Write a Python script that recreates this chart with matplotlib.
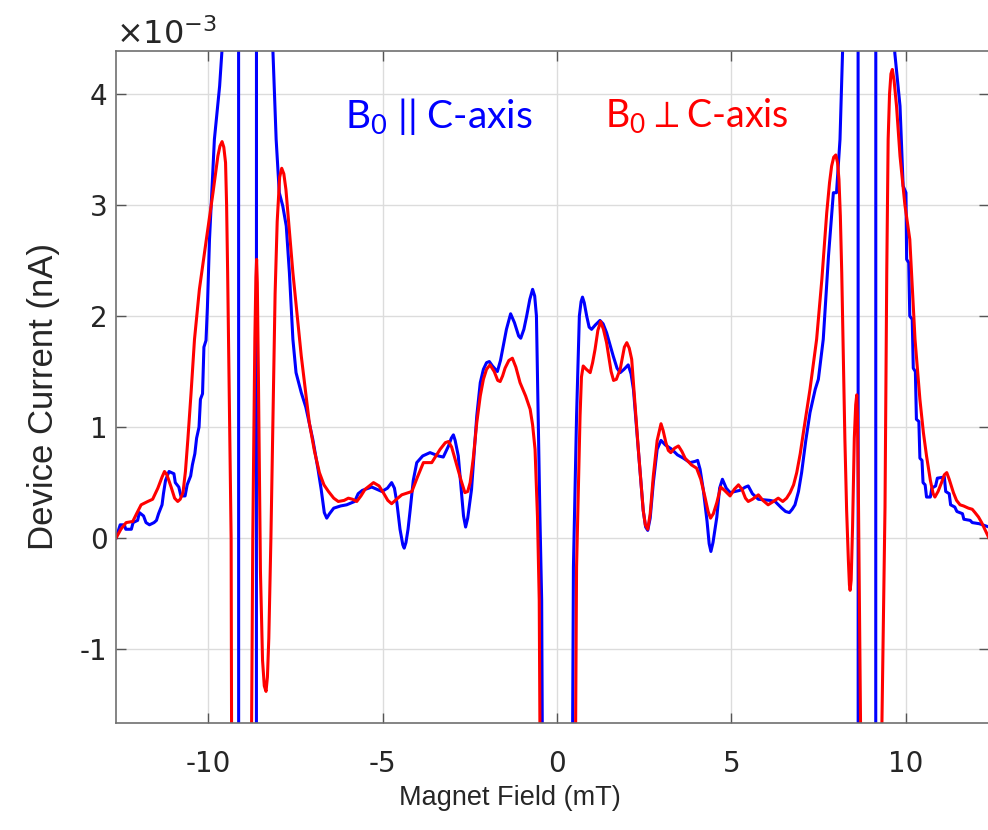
import numpy as np
import matplotlib
matplotlib.use("Agg")
import matplotlib.pyplot as plt
from matplotlib.ticker import FuncFormatter

# (magnet field in mT, device current in 1e-3 nA)
# B0 parallel to C-axis (blue)
par_pts = [
    (-12.64, 0.00), (-12.52, 0.12), (-12.40, 0.12), (-12.36, 0.08), (-12.20, 0.08),
    (-12.15, 0.14), (-12.02, 0.16), (-11.97, 0.23), (-11.85, 0.20), (-11.78, 0.14),
    (-11.68, 0.12), (-11.55, 0.14), (-11.48, 0.16), (-11.42, 0.22), (-11.32, 0.30),
    (-11.28, 0.40), (-11.22, 0.52), (-11.12, 0.60), (-10.98, 0.58), (-10.94, 0.50),
    (-10.84, 0.46), (-10.78, 0.38), (-10.66, 0.38), (-10.60, 0.48), (-10.50, 0.56),
    (-10.45, 0.66), (-10.38, 0.76), (-10.33, 0.90), (-10.26, 1.00), (-10.22, 1.25),
    (-10.16, 1.30), (-10.12, 1.72), (-10.06, 1.78), (-10.02, 2.08), (-9.96, 2.69),
    (-9.82, 3.59), (-9.67, 4.07), (-9.59, 4.45), (-9.14, 60), (-9.11, -60),
    (-8.63, -60), (-8.60, 60), (-8.17, 60), (-8.15, 4.45), (-8.05, 3.59),
    (-7.96, 3.11), (-7.86, 2.99), (-7.76, 2.81), (-7.67, 2.39), (-7.57, 1.79),
    (-7.48, 1.49), (-7.33, 1.31), (-7.20, 1.18), (-7.00, 0.89), (-6.85, 0.62),
    (-6.76, 0.44), (-6.67, 0.23), (-6.60, 0.18), (-6.52, 0.22), (-6.40, 0.27),
    (-6.20, 0.29), (-6.03, 0.30), (-5.80, 0.33), (-5.70, 0.40), (-5.58, 0.43),
    (-5.31, 0.46), (-5.02, 0.42), (-4.86, 0.45), (-4.74, 0.50), (-4.66, 0.45),
    (-4.59, 0.32), (-4.50, 0.08), (-4.42, -0.06), (-4.38, -0.09), (-4.33, -0.04),
    (-4.27, 0.08), (-4.21, 0.25), (-4.12, 0.52), (-4.02, 0.68), (-3.85, 0.74),
    (-3.64, 0.77), (-3.40, 0.74), (-3.26, 0.73), (-3.11, 0.83), (-3.03, 0.90),
    (-2.97, 0.93), (-2.92, 0.88), (-2.83, 0.74), (-2.75, 0.45), (-2.68, 0.20),
    (-2.62, 0.10), (-2.56, 0.18), (-2.45, 0.44), (-2.30, 1.10), (-2.20, 1.40),
    (-2.11, 1.52), (-2.02, 1.58), (-1.94, 1.59), (-1.85, 1.55), (-1.71, 1.50),
    (-1.62, 1.60), (-1.54, 1.73), (-1.45, 1.88), (-1.33, 2.02), (-1.22, 1.94),
    (-1.10, 1.82), (-1.04, 1.80), (-0.95, 1.88), (-0.87, 2.00), (-0.78, 2.15),
    (-0.70, 2.24), (-0.64, 2.18), (-0.59, 2.00), (-0.54, 1.10), (-0.49, 0.19),
    (-0.44, -0.56), (0.00, -30), (0.47, -0.26), (0.56, 1.10), (0.64, 2.00),
    (0.69, 2.13), (0.73, 2.17), (0.78, 2.12), (0.85, 2.00), (0.92, 1.90),
    (0.99, 1.88), (1.10, 1.92), (1.23, 1.96), (1.32, 1.93), (1.42, 1.85),
    (1.61, 1.64), (1.72, 1.53), (1.81, 1.49), (1.92, 1.52), (2.04, 1.56),
    (2.12, 1.48), (2.19, 1.34), (2.33, 0.80), (2.47, 0.25), (2.54, 0.10),
    (2.60, 0.07), (2.67, 0.18), (2.76, 0.50), (2.87, 0.80), (2.98, 0.88),
    (3.10, 0.84), (3.29, 0.80), (3.45, 0.75), (3.62, 0.72), (3.81, 0.68),
    (3.95, 0.69), (4.03, 0.70), (4.10, 0.62), (4.19, 0.44), (4.30, 0.15),
    (4.36, -0.05), (4.41, -0.12), (4.47, -0.04), (4.58, 0.19), (4.66, 0.45),
    (4.74, 0.53), (4.85, 0.45), (4.96, 0.41), (5.24, 0.43), (5.40, 0.46),
    (5.48, 0.47), (5.60, 0.40), (5.77, 0.35), (6.10, 0.34), (6.25, 0.33),
    (6.44, 0.27), (6.55, 0.24), (6.66, 0.23), (6.74, 0.26), (6.82, 0.30),
    (6.92, 0.42), (7.01, 0.59), (7.13, 0.88), (7.25, 1.13), (7.40, 1.34),
    (7.49, 1.43), (7.63, 1.79), (7.78, 2.54), (7.92, 3.11), (8.01, 3.11),
    (8.11, 3.59), (8.19, 4.45), (8.61, 60), (8.65, -60), (9.12, -60),
    (9.15, 60), (9.66, 60), (9.68, 4.37), (9.83, 3.89), (9.92, 3.17),
    (10.00, 3.11), (10.02, 2.51), (10.08, 2.48), (10.11, 2.00), (10.18, 1.97),
    (10.21, 1.53), (10.27, 1.50), (10.30, 1.07), (10.37, 1.05), (10.40, 0.72),
    (10.46, 0.70), (10.49, 0.50), (10.55, 0.48), (10.59, 0.37), (10.70, 0.37),
    (10.74, 0.45), (10.85, 0.47), (10.90, 0.54), (11.10, 0.55), (11.14, 0.42),
    (11.24, 0.40), (11.28, 0.30), (11.40, 0.28), (11.46, 0.24), (11.62, 0.22),
    (11.66, 0.17), (11.84, 0.16), (11.90, 0.14), (12.10, 0.13), (12.38, 0.10),
]

# B0 perpendicular to C-axis (red)
perp_pts = [
    (-12.64, 0.00), (-12.50, 0.08), (-12.35, 0.14), (-12.16, 0.15), (-12.05, 0.22),
    (-11.92, 0.30), (-11.73, 0.33), (-11.59, 0.35), (-11.44, 0.45), (-11.32, 0.55),
    (-11.25, 0.60), (-11.18, 0.57), (-11.06, 0.46), (-10.96, 0.36), (-10.87, 0.33),
    (-10.80, 0.35), (-10.72, 0.41), (-10.65, 0.60), (-10.58, 0.89), (-10.49, 1.30),
    (-10.39, 1.79), (-10.25, 2.24), (-10.05, 2.69), (-9.86, 3.11), (-9.72, 3.44),
    (-9.66, 3.53), (-9.60, 3.57), (-9.55, 3.52), (-9.50, 3.38), (-9.47, 3.00),
    (-9.44, 2.39), (-9.39, 1.20), (-9.34, 0.00), (-9.05, -40), (-8.78, -3.00),
    (-8.72, 0.00), (-8.66, 1.80), (-8.63, 2.35), (-8.61, 2.51), (-8.59, 2.30),
    (-8.56, 1.50), (-8.50, -0.30), (-8.44, -1.10), (-8.39, -1.33), (-8.34, -1.38),
    (-8.30, -1.25), (-8.26, -0.90), (-8.20, 0.00), (-8.08, 2.20), (-8.02, 2.85),
    (-7.95, 3.25), (-7.89, 3.33), (-7.83, 3.28), (-7.77, 3.14), (-7.57, 2.39),
    (-7.33, 1.64), (-7.10, 1.04), (-6.95, 0.78), (-6.81, 0.59), (-6.68, 0.48),
    (-6.55, 0.42), (-6.40, 0.36), (-6.27, 0.33), (-6.10, 0.34), (-5.98, 0.36),
    (-5.86, 0.35), (-5.74, 0.33), (-5.62, 0.38), (-5.50, 0.44), (-5.26, 0.50),
    (-5.10, 0.47), (-4.98, 0.41), (-4.85, 0.34), (-4.74, 0.31), (-4.60, 0.35),
    (-4.45, 0.39), (-4.16, 0.42), (-4.00, 0.55), (-3.83, 0.68), (-3.59, 0.68),
    (-3.45, 0.75), (-3.35, 0.80), (-3.20, 0.86), (-3.11, 0.87), (-3.02, 0.82),
    (-2.92, 0.71), (-2.75, 0.52), (-2.64, 0.41), (-2.56, 0.42), (-2.49, 0.50),
    (-2.40, 0.72), (-2.30, 1.04), (-2.20, 1.28), (-2.11, 1.43), (-2.02, 1.52),
    (-1.92, 1.56), (-1.80, 1.50), (-1.70, 1.42), (-1.63, 1.41), (-1.56, 1.46),
    (-1.49, 1.53), (-1.38, 1.60), (-1.28, 1.62), (-1.18, 1.54), (-1.06, 1.40),
    (-0.90, 1.28), (-0.77, 1.16), (-0.70, 1.02), (-0.63, 0.80), (-0.56, 0.19),
    (-0.51, -0.56), (0.00, -30), (0.56, -0.26), (0.66, 1.10), (0.70, 1.45),
    (0.75, 1.55), (0.84, 1.52), (0.95, 1.49), (1.02, 1.58), (1.09, 1.70),
    (1.17, 1.87), (1.25, 1.95), (1.33, 1.88), (1.42, 1.76), (1.55, 1.50),
    (1.62, 1.42), (1.70, 1.43), (1.81, 1.52), (1.93, 1.72), (2.00, 1.76),
    (2.07, 1.71), (2.14, 1.61), (2.33, 0.80), (2.47, 0.25), (2.53, 0.12),
    (2.60, 0.08), (2.67, 0.22), (2.76, 0.56), (2.87, 0.88), (2.98, 1.03),
    (3.04, 0.97), (3.12, 0.86), (3.19, 0.79), (3.26, 0.77), (3.37, 0.81),
    (3.48, 0.83), (3.58, 0.78), (3.67, 0.72), (3.85, 0.66), (4.00, 0.63),
    (4.12, 0.53), (4.24, 0.37), (4.33, 0.24), (4.40, 0.18), (4.48, 0.22),
    (4.58, 0.32), (4.69, 0.46), (4.80, 0.43), (4.96, 0.38), (5.08, 0.44),
    (5.20, 0.48), (5.30, 0.44), (5.40, 0.36), (5.48, 0.33), (5.60, 0.35),
    (5.77, 0.39), (5.90, 0.34), (6.05, 0.30), (6.20, 0.33), (6.34, 0.36),
    (6.47, 0.33), (6.58, 0.36), (6.68, 0.41), (6.78, 0.48), (6.87, 0.59),
    (6.97, 0.76), (7.06, 0.95), (7.25, 1.34), (7.44, 1.79), (7.59, 2.33),
    (7.73, 2.93), (7.81, 3.20), (7.87, 3.35), (7.93, 3.43), (7.99, 3.45),
    (8.04, 3.38), (8.08, 3.23), (8.12, 2.90), (8.16, 2.39), (8.25, 0.89),
    (8.30, 0.25), (8.35, -0.20), (8.38, -0.42), (8.40, -0.47), (8.43, -0.38),
    (8.47, 0.10), (8.52, 0.90), (8.56, 1.20), (8.59, 1.29), (8.61, 1.10),
    (8.64, 0.30), (8.70, -1.70), (9.00, -40), (9.31, -1.70), (9.40, 0.28),
    (9.45, 2.39), (9.49, 3.59), (9.53, 4.00), (9.57, 4.18), (9.61, 4.22),
    (9.66, 4.12), (9.73, 3.89), (9.83, 3.44), (9.97, 3.00), (10.11, 2.69),
    (10.26, 1.79), (10.40, 1.25), (10.50, 0.95), (10.59, 0.74), (10.70, 0.52),
    (10.78, 0.40), (10.83, 0.37), (10.92, 0.42), (11.02, 0.50), (11.10, 0.57),
    (11.17, 0.59), (11.24, 0.53), (11.36, 0.41), (11.45, 0.34), (11.55, 0.30),
    (11.65, 0.29), (11.79, 0.27), (11.90, 0.26), (11.98, 0.23), (12.08, 0.19),
    (12.17, 0.14), (12.38, 0.00),
]

x_ticks = [-10, -5, 0, 5, 10]
y_ticks = [-1, 0, 1, 2, 3, 4]

plt.rcParams['font.family'] = ['DejaVu Sans']
plt.rcParams['axes.unicode_minus'] = False

fig = plt.figure(figsize=(9.88, 8.30), dpi=100)
ax = fig.add_axes([0.1174, 0.1295, 0.8836, 0.8096])

bx, by = zip(*par_pts)
rx, ry = zip(*perp_pts)
ax.plot(bx, np.array(by) * 1e-3, color='#0000ff', lw=2.2, solid_joinstyle='round')
ax.plot(rx, np.array(ry) * 1e-3, color='#ff0000', lw=2.2, solid_joinstyle='round')

ax.set_xlim(-12.64, 12.38)
ax.set_ylim(-1.66e-3, 4.39e-3)
ax.set_xticks(x_ticks)
ax.set_yticks([t * 1e-3 for t in y_ticks])
ax.yaxis.set_major_formatter(FuncFormatter(lambda v, p: '%g' % round(v * 1e3, 6)))
ax.text(0.0, 1.0, r'$\times\mathregular{10}^{\mathregular{-3}}$', transform=ax.transAxes,
        fontsize=23, color='#262626', ha='left', va='bottom')

ax.grid(True, color='#dcdcdc', lw=1.0)
ax.set_axisbelow(True)
ax.tick_params(direction='in', length=7, width=1.0, colors='#555555',
               labelcolor='#262626', labelsize=20, top=True, right=True)
ax.tick_params(axis='x', pad=20)
ax.tick_params(axis='y', pad=6)
for s in ax.spines.values():
    s.set_color('#707070')
    s.set_linewidth(1.2)

ax.set_xlabel('Magnet Field (mT)', fontsize=19.5, color='#262626',
              family='Liberation Sans')
ax.xaxis.set_label_coords(0.451, -0.093)
ax.set_ylabel('Device Current (nA)', fontsize=25, color='#262626',
              family='Liberation Sans')
ax.yaxis.set_label_coords(-0.064, 0.485)

ax.text(-6.07, 3.80e-3, r'B$_\mathregular{0}$ || C-axis', color='#0000ff',
        fontsize=28, family='Lato', va='center')
ax.text(1.38, 3.80e-3, r'B$_\mathregular{0}$$\perp$C-axis', color='#ff0000',
        fontsize=27, family='Lato', va='center')

fig.savefig('out.png', dpi=100)
